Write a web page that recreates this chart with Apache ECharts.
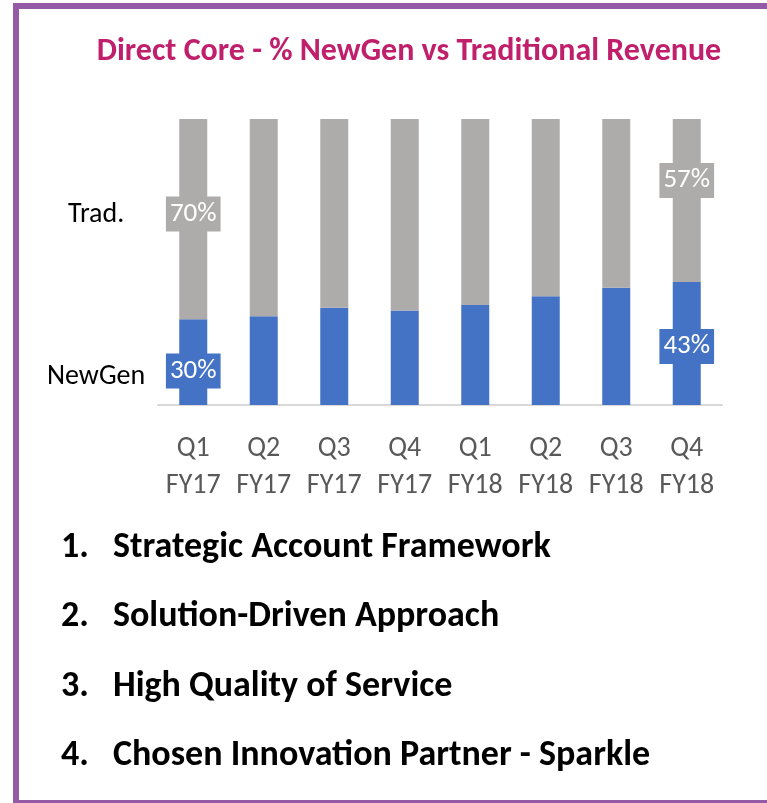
<!DOCTYPE html>
<html>
<head>
<meta charset="utf-8">
<script src="https://cdn.jsdelivr.net/npm/echarts@6/dist/echarts.min.js"></script>
<style>
  html, body { margin: 0; padding: 0; background: #fff; }
  #frame {
    position: absolute; left: 13px; top: 3px; width: 760px; height: 791px;
    border-left: 6px solid #955AA5; border-top: 6px solid #955AA5; border-bottom: 3px solid #955AA5;
  }
  #chart { position: absolute; left: 0; top: 0; width: 767px; height: 803px; }
</style>
</head>
<body>
<div id="frame"></div>
<div id="chart"></div>
<script>
const quarters = ['Q1\nFY17', 'Q2\nFY17', 'Q3\nFY17', 'Q4\nFY17', 'Q1\nFY18', 'Q2\nFY18', 'Q3\nFY18', 'Q4\nFY18']
const newGen = [30, 31, 34, 33, 35, 38, 41, 43]
const trad = [70, 69, 66, 67, 65, 62, 59, 57]
const points = [
  'Strategic Account Framework',
  'Solution-Driven Approach',
  'High Quality of Service',
  'Chosen Innovation Partner - Sparkle'
]

const FONT = 'Carlito, Calibri, Lato, sans-serif'
const BLUE = '#4472C4'
const GREY = '#AEABAB'

// only first and last bar carry a value label
const withLabels = (values, color, offsets) => values.map((v, i) => {
  const edge = i === 0 || i === values.length - 1
  return {
    value: v,
    label: edge ? {
      show: true,
      position: 'inside',
      offset: i === 0 ? offsets[0] : offsets[1],
      formatter: '{c}%',
      color: '#fff',
      fontSize: 27,
      fontFamily: FONT,
      backgroundColor: color,
      padding: [5, 4, 3, 4]
    } : { show: false }
  }
})

const chart = echarts.init(document.getElementById('chart'))

chart.setOption({
  animation: false,
  grid: { left: 158, right: 45, top: 119, bottom: 398 },
  xAxis: {
    type: 'category',
    data: quarters,
    axisLine: { lineStyle: { color: '#D9D9D9', width: 2 } },
    axisTick: { show: false },
    axisLabel: { interval: 0, color: '#595959', fontSize: 28, lineHeight: 37, margin: 25, fontFamily: FONT }
  },
  yAxis: { type: 'value', min: 0, max: 100, show: false },
  series: [
    {
      name: 'NewGen',
      type: 'bar',
      stack: 'rev',
      barWidth: 28,
      itemStyle: { color: BLUE },
      data: withLabels(newGen, BLUE, [[0, 9], [0, 3]])
    },
    {
      name: 'Trad.',
      type: 'bar',
      stack: 'rev',
      barWidth: 28,
      itemStyle: { color: GREY },
      data: withLabels(trad, GREY, [[0, -5], [0, -20]])
    }
  ],
  graphic: [
    {
      type: 'text', x: 409, y: 52,
      style: { text: 'Direct Core - % NewGen vs Traditional Revenue', fill: '#C01F6B', font: 'bold 32px ' + FONT, align: 'center', verticalAlign: 'middle' }
    },
    { type: 'text', x: 68, y: 215, style: { text: 'Trad.', fill: '#000', font: '28px ' + FONT, verticalAlign: 'middle' } },
    { type: 'text', x: 47, y: 377, style: { text: 'NewGen', fill: '#000', font: '28px ' + FONT, verticalAlign: 'middle' } },
    ...points.map((t, i) => ({
      type: 'text', x: 61, y: 548 + i * 69.3,
      style: { text: (i + 1) + '.', fill: '#000', font: 'bold 36px ' + FONT, verticalAlign: 'middle' }
    })),
    ...points.map((t, i) => ({
      type: 'text', x: 113, y: 548 + i * 69.3,
      style: { text: t, fill: '#000', font: 'bold 36px ' + FONT, verticalAlign: 'middle' }
    }))
  ]
})
</script>
</body>
</html>
